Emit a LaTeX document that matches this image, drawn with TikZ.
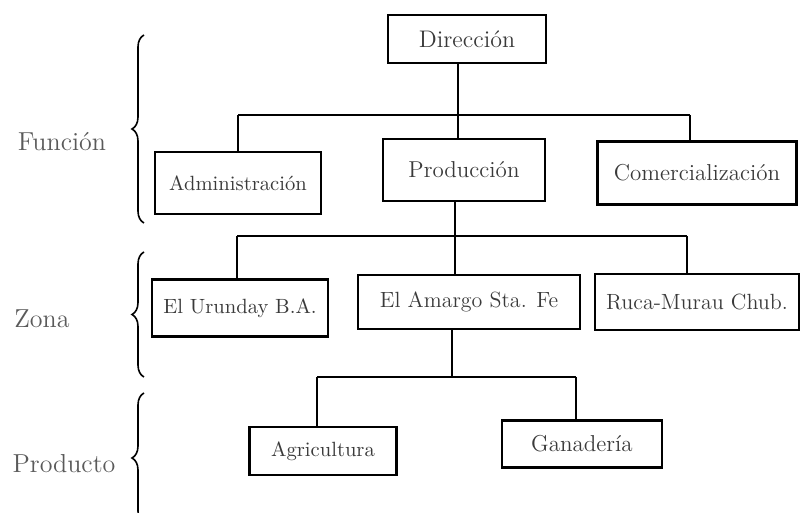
\documentclass[tikz,border=0pt]{standalone}
\usetikzlibrary{decorations.pathreplacing}
\definecolor{labelgray}{HTML}{5A5A5A}
\definecolor{textgray}{HTML}{3A3A3A}
\begin{document}
\begin{tikzpicture}[x=0.5pt,y=-0.5pt,
  unit/.style={draw=black,line width=1.3pt,rectangle,inner sep=0pt,
    text=textgray,font=\fontsize{11.5}{13}\selectfont},
  small/.style={font=\fontsize{10.3}{12}\selectfont},
  mid/.style={font=\fontsize{11}{13}\selectfont},
  big/.style={font=\fontsize{12}{14}\selectfont},
  bar/.style={line width=1pt},
  stem/.style={line width=0.6pt},
  level/.style={text=labelgray,font=\fontsize{13}{15}\selectfont},
  bracket/.style={line width=0.8pt,decorate,
    decoration={brace,amplitude=6pt}}]
\useasboundingbox (0,0) rectangle (800,513);

% organisation units
\node[unit,big,minimum width=79pt,minimum height=24pt] (dir) at (467,39) {Dirección};
\node[unit,small,minimum width=83pt,minimum height=31pt] (adm) at (238,183) {Administración};
\node[unit,minimum width=81pt,minimum height=31pt] (prod) at (464,170) {Producción};
\node[unit,minimum width=99.5pt,minimum height=31.5pt] (com) at (697,173) {Comercialización};
\node[unit,small,minimum width=88pt,minimum height=28.5pt] (uru) at (240,308) {El Urunday B.A.};
\node[unit,mid,minimum width=111pt,minimum height=27pt] (ama) at (469,302) {El Amargo Sta. Fe};
\node[unit,mid,minimum width=102pt,minimum height=28pt] (ruc) at (697,302) {Ruca-Murau Chub.};
\node[unit,small,minimum width=73.5pt,minimum height=24pt] (agr) at (323,451) {Agricultura};
\node[unit,minimum width=80pt,minimum height=23.5pt] (gan) at (582,444) {Ganadería};

% junctions of the horizontal bars
\coordinate (b1l) at (238,115);
\coordinate (b1m) at (458,115);
\coordinate (b1r) at (690,115);
\coordinate (b2l) at (237,236);
\coordinate (b2m) at (455,236);
\coordinate (b2r) at (687,236);
\coordinate (b3l) at (317,377);
\coordinate (b3m) at (452,377);
\coordinate (b3r) at (576,377);

% Dirección -> functions
\draw[stem] (b1m |- dir.south) -- (b1m |- prod.north);
\draw[bar] (b1l) -- (b1r);
\draw[stem] (b1l) -- (b1l |- adm.north);
\draw[stem] (b1r) -- (b1r |- com.north);

% Producción -> zones
\draw[stem] (b2m |- prod.south) -- (b2m |- ama.north);
\draw[bar] (b2l) -- (b2r);
\draw[stem] (b2l) -- (b2l |- uru.north);
\draw[stem] (b2r) -- (b2r |- ruc.north);

% El Amargo -> products
\draw[stem] (b3m |- ama.south) -- (b3m);
\draw[bar] (b3l) -- (b3r);
\draw[stem] (b3l) -- (b3l |- agr.north);
\draw[stem] (b3r) -- (b3r |- gan.north);

% level labels and braces
\node[level] (fun) at (62,142) {Función};
\node[level] (zon) at (42,319) {Zona};
\node[level] (pro) at (64,464) {Producto};

\begin{scope}
  \clip (0,0) rectangle (800,513);
  \draw[bracket] (144,223) -- (144,35);
  \draw[bracket] (144,377) -- (144,252);
  \draw[bracket] (144,523) -- (144,393);
\end{scope}
\end{tikzpicture}
\end{document}
